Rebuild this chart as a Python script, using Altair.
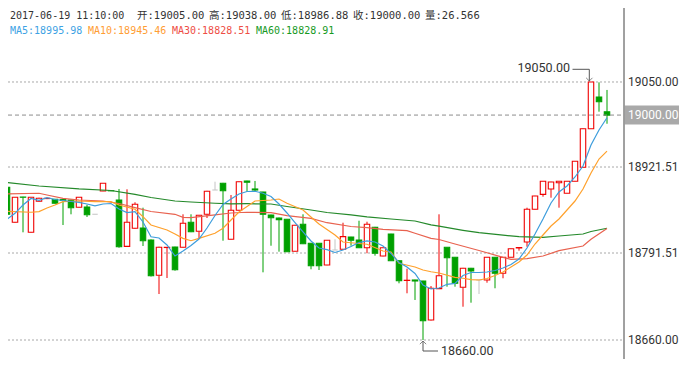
import altair as alt
import pandas as pd

# ---------------- data ----------------
candle_idx = list(range(77))
opens = [18832.3, 18890.8, 18837.9, 18876.2, 18822.8, 18869.7, 18873.8, 18872.7, 18872.4, 18871.6,
         18860.6, 18861.1, 18850.0, 18885.2, 18885.7, 18871.6, 18801.6, 18828.9, 18829.3, 18811.2,
         18757.8, 18799.8, 18800.6, 18800.1, 18837.9, 18824.3, 18850.0, 18886.7, 18896.9, 18812.2,
         18856.1, 18900.4, 18888.3, 18883.7, 18849.0, 18844.4, 18842.5, 18794.1, 18834.9, 18806.2,
         18806.2, 18773.4, 18796.0, 18797.1, 18815.7, 18811.2, 18799.5, 18830.4, 18787.0, 18820.2,
         18779.9, 18750.0, 18750.7, 18749.2, 18690.2, 18737.6, 18800.1, 18785.0, 18739.7, 18768.4,
         18750.7, 18750.7, 18785.0, 18760.8, 18785.0, 18799.1, 18808.1, 18857.6, 18880.2, 18888.3,
         18897.8, 18881.8, 18899.9, 18921.1, 18979.4, 19027.3, 19005.0]
closes = [18890.8, 18850.0, 18875.7, 18875.7, 18875.7, 18874.2, 18874.2, 18866.7, 18870.9, 18860.0,
          18875.7, 18849.4, 18850.0, 18896.9, 18885.5, 18801.0, 18837.9, 18865.1, 18810.1, 18757.2,
          18800.1, 18800.1, 18766.3, 18836.4, 18823.7, 18848.5, 18884.8, 18886.7, 18885.7, 18856.1,
          18899.3, 18898.4, 18886.7, 18850.0, 18844.9, 18841.9, 18793.5, 18833.4, 18805.6, 18772.3,
          18772.3, 18810.7, 18796.0, 18816.2, 18810.7, 18799.5, 18834.9, 18791.1, 18799.5, 18779.9,
          18749.6, 18750.3, 18749.2, 18689.2, 18738.2, 18757.2, 18784.4, 18745.7, 18768.4, 18764.3,
          18750.7, 18785.0, 18760.8, 18785.0, 18798.0, 18799.8, 18857.6, 18877.7, 18899.9, 18898.8,
          18899.9, 18899.9, 18930.1, 18979.4, 19050.0, 19020.2, 19000.0]
highs = [18892.0, 18892.0, 18876.0, 18876.5, 18876.0, 18875.0, 18875.0, 18873.0, 18873.0, 18872.0,
         18876.0, 18864.5, 18850.0, 18897.0, 18886.0, 18888.3, 18887.8, 18868.2, 18860.0, 18812.0,
         18801.0, 18800.5, 18801.0, 18850.0, 18850.0, 18849.0, 18885.5, 18899.3, 18897.5, 18879.2,
         18900.0, 18900.8, 18900.4, 18884.0, 18849.5, 18845.0, 18843.0, 18834.0, 18850.0, 18806.5,
         18806.5, 18811.0, 18812.2, 18837.3, 18816.0, 18840.3, 18838.8, 18831.0, 18800.0, 18820.5,
         18780.5, 18767.8, 18751.0, 18749.5, 18741.6, 18850.0, 18800.5, 18785.5, 18769.0, 18769.0,
         18751.0, 18785.5, 18785.5, 18785.5, 18798.5, 18800.0, 18860.0, 18878.0, 18900.3, 18899.2,
         18900.2, 18900.2, 18930.5, 18980.0, 19050.0, 19049.5, 19038.0]
lows = [18830.0, 18849.0, 18837.0, 18822.8, 18822.0, 18869.0, 18873.0, 18866.0, 18833.8, 18850.0,
        18860.0, 18846.0, 18850.0, 18885.0, 18885.0, 18799.5, 18801.0, 18828.0, 18802.1, 18756.0,
        18729.5, 18753.7, 18764.8, 18799.5, 18823.0, 18813.1, 18844.4, 18886.7, 18810.1, 18811.5,
        18855.5, 18884.2, 18883.7, 18762.3, 18802.5, 18793.5, 18793.0, 18793.5, 18805.0, 18766.9,
        18765.8, 18773.0, 18796.0, 18797.0, 18802.5, 18799.0, 18791.1, 18787.5, 18786.5, 18779.5,
        18745.7, 18730.6, 18720.5, 18660.0, 18689.5, 18737.0, 18740.6, 18740.6, 18710.3, 18716.4,
        18729.5, 18746.6, 18738.2, 18753.3, 18784.5, 18795.0, 18801.0, 18857.0, 18876.6, 18875.1,
        18860.0, 18881.5, 18899.5, 18920.5, 18979.0, 19005.1, 18986.88]

ma5_vals = [18842.5, 18842.5, 18851.5, 18864.1, 18873.9, 18871.2, 18875.1, 18872.4, 18870.9, 18869.4,
            18867.9, 18865.6, 18862.9, 18865.6, 18866.3, 18858.0, 18852.7, 18853.9, 18838.4, 18816.0,
            18814.2, 18803.6, 18787.0, 18794.5, 18802.9, 18812.7, 18829.3, 18848.2, 18864.8, 18873.1,
            18880.7, 18884.5, 18884.8, 18881.8, 18876.9, 18865.6, 18852.0, 18837.6, 18823.6, 18809.7,
            18799.1, 18796.5, 18792.3, 18796.1, 18801.3, 18807.4, 18809.7, 18808.1, 18802.1, 18790.8,
            18777.2, 18770.4, 18760.5, 18743.1, 18737.1, 18738.6, 18744.2, 18745.7, 18757.5, 18762.0,
            18762.0, 18762.8, 18765.1, 18768.8, 18774.1, 18782.4, 18799.1, 18820.2, 18842.9, 18867.1,
            18883.7, 18892.8, 18906.4, 18923.0, 18954.8, 18977.4, 18995.98]

ma10_idx = [0, 4, 5, 6, 7, 8, 10, 12, 14, 15, 17, 18, 19, 21, 22, 23, 24, 25, 27, 28, 29, 30, 32, 34, 35,
            36, 38, 40, 42, 43, 46, 48, 49, 50, 52, 53, 54, 55, 57, 58, 59, 60, 61, 62, 63, 64, 65, 66,
            67, 68, 69, 70, 71, 72, 73, 74, 75, 76]
ma10_vals = [18855.0, 18853.1, 18854.0, 18859.5, 18864.1, 18869.1, 18870.1, 18869.1, 18869.1, 18864.1,
             18857.6, 18846.4, 18833.8, 18826.3, 18820.2, 18813.7, 18810.1, 18813.7, 18821.3, 18828.9,
             18841.4, 18853.5, 18870.1, 18871.6, 18873.1, 18866.7, 18856.5, 18835.3, 18818.7, 18808.1,
             18804.7, 18794.5, 18793.0, 18775.9, 18770.4, 18765.8, 18763.2, 18761.3, 18754.8, 18753.3,
             18751.2, 18750.7, 18753.0, 18757.5, 18762.8, 18770.4, 18777.9, 18788.5, 18805.1, 18818.7,
             18832.3, 18842.9, 18856.5, 18870.1, 18888.3, 18912.4, 18933.6, 18945.46]

ma30_idx = [0, 5, 6, 8, 10, 13, 15, 17, 19, 22, 23, 24, 27, 29, 31, 34, 36, 39, 41, 44, 46, 48, 51, 52,
            54, 55, 57, 60, 63, 64, 66, 68, 70, 73, 74, 76]
ma30_vals = [18880.7, 18881.8, 18879.2, 18874.2, 18871.6, 18870.1, 18866.3, 18860.0, 18854.2, 18850.0,
             18845.5, 18844.9, 18849.0, 18852.0, 18853.1, 18852.4, 18847.9, 18843.9, 18837.3, 18831.6,
             18829.8, 18827.3, 18825.2, 18821.3, 18813.7, 18811.9, 18805.1, 18795.3, 18785.0, 18782.0,
             18782.9, 18787.0, 18795.0, 18802.1, 18812.2, 18828.51]

ma60_idx = [0, 5, 10, 14, 17, 19, 22, 24, 27, 29, 31, 34, 36, 39, 41, 44, 46, 49, 52, 54, 55, 58, 60,
            63, 65, 68, 70, 73, 74, 76]
ma60_vals = [18899.3, 18892.8, 18888.3, 18886.0, 18880.2, 18875.4, 18870.1, 18868.6, 18866.7, 18865.9,
             18866.0, 18865.6, 18861.8, 18856.5, 18852.7, 18849.0, 18846.0, 18842.9, 18839.9, 18834.0,
             18832.0, 18825.8, 18822.2, 18818.4, 18816.2, 18815.2, 18817.2, 18820.2, 18824.0, 18828.91]

axis_ticks = [18660.00, 18791.51, 18921.51, 19050.00]
header_time = "2017-06-19 11:10:00"
last_volume = "26.566"

# ---------------- layout / style ----------------
W, H = 616, 351
RIGHT = 55
X_DOMAIN = [1.125, 78.125]
Y_DOMAIN = [18631.28, 19161.86]
LABEL_FONT = "Roboto"
LABEL_SIZE = 12
MONO = "DejaVu Sans Mono, Noto Sans CJK SC"
UP, DOWN, FLAT = "#f00000", "#00a000", "#c4c4c4"
MA_COLORS = {"MA5": "#3d9ddc", "MA10": "#ffa12c", "MA30": "#e8624f", "MA60": "#24892a"}
HDR_COLORS = {"MA5": "#3ea2e4", "MA10": "#ff9d33", "MA30": "#ee4d45", "MA60": "#179a1f"}

xs = alt.Scale(domain=X_DOMAIN, zero=False, nice=False)
ys = alt.Scale(domain=Y_DOMAIN, zero=False, nice=False)


def X(f):
    return alt.X(f, scale=xs, axis=None)


def Y(f):
    return alt.Y(f, scale=ys, axis=None)


df = pd.DataFrame({"i": candle_idx, "open": opens, "high": highs, "low": lows, "close": closes})
df["top"] = df[["open", "close"]].max(axis=1)
df["bot"] = df[["open", "close"]].min(axis=1)
df["stroke"] = [UP if c > o else (DOWN if c < o else FLAT) for o, c in zip(opens, closes)]
df["fill"] = ["#ffffff" if c > o else (DOWN if c < o else FLAT) for o, c in zip(opens, closes)]
df["x0"] = df["i"] - 0.34
df["x1"] = df["i"] + 0.34

layers = []

# grid lines (through the y scale)
df_ticks = pd.DataFrame({"p": axis_ticks, "label": [f"{t:.2f}" for t in axis_ticks]})
layers.append(alt.Chart(df_ticks).mark_rule(color="#a8a8a8", strokeDash=[2, 2], strokeWidth=1).encode(
    y=Y("p:Q"), x=alt.value(0), x2=alt.value(W)))

# candles
base = alt.Chart(df)
layers.append(base.mark_rule(strokeWidth=1, clip=True).encode(
    x=X("i:Q"), y=Y("high:Q"), y2="top:Q", color=alt.Color("stroke:N", scale=None)))
layers.append(base.mark_rule(strokeWidth=1, clip=True).encode(
    x=X("i:Q"), y=Y("bot:Q"), y2="low:Q", color=alt.Color("stroke:N", scale=None)))
layers.append(base.mark_rect(strokeWidth=1.1, clip=True).encode(
    x=X("x0:Q"), x2="x1:Q", y=Y("open:Q"), y2="close:Q",
    fill=alt.Fill("fill:N", scale=None), stroke=alt.Stroke("stroke:N", scale=None)))

# moving averages
ma_series = [("MA60", ma60_idx, ma60_vals), ("MA30", ma30_idx, ma30_vals),
             ("MA10", ma10_idx, ma10_vals), ("MA5", candle_idx, ma5_vals)]
for name, ii, vv in ma_series:
    d = pd.DataFrame({"i": ii, "v": vv})
    layers.append(alt.Chart(d).mark_line(strokeWidth=1.2, color=MA_COLORS[name], clip=True).encode(
        x=X("i:Q"), y=Y("v:Q"), order="i:Q"))

# last price line and box
df_last = pd.DataFrame({"p": [closes[-1]], "label": [f"{closes[-1]:.2f}"]})
layers.append(alt.Chart(df_last).mark_rule(color="#8c8c8c", strokeDash=[4, 3]).encode(
    y=Y("p:Q"), x=alt.value(0), x2=alt.value(W)))
layers.append(alt.Chart(df_last).mark_rule(color="#a9a9a9", strokeWidth=19, strokeCap="butt").encode(
    y=Y("p:Q"), x=alt.value(W), x2=alt.value(W + RIGHT)))

# axis line and labels
layers.append(alt.Chart(df_ticks).mark_rule(color="#9a9a9a").encode(
    x=alt.value(W), y=alt.value(0), y2=alt.value(H)))
layers.append(alt.Chart(df_ticks).mark_text(align="left", baseline="middle", font=LABEL_FONT,
                                            fontSize=LABEL_SIZE, color="#333333").encode(
    y=Y("p:Q"), x=alt.value(W + 4), text="label:N"))
layers.append(alt.Chart(df_last).mark_text(align="left", baseline="middle", font=LABEL_FONT,
                                           fontSize=LABEL_SIZE, color="#ffffff").encode(
    y=Y("p:Q"), x=alt.value(W + 4), text="label:N"))

# high / low annotations
hi_row = df.loc[df["high"].idxmax()]
lo_row = df.loc[df["low"].idxmin()]
df_hi = pd.DataFrame({"i": [hi_row["i"]], "p": [hi_row["high"]], "label": [f"{hi_row['high']:.2f}"]})
df_lo = pd.DataFrame({"i": [lo_row["i"]], "p": [lo_row["low"]], "label": [f"{lo_row['low']:.2f}"]})
ANN = "#555555"
layers.append(alt.Chart(df_hi).mark_text(align="right", baseline="middle", dx=-21, dy=-13.5,
                                         font=LABEL_FONT, fontSize=12.5, color="#333333").encode(
    x=X("i:Q"), y=Y("p:Q"), text="label:N"))
layers.append(alt.Chart(df_hi).mark_rule(color=ANN, xOffset=-18.5, x2Offset=-1.7,
                                         yOffset=-12.7, y2Offset=-12.7).encode(
    x=X("i:Q"), x2="i:Q", y=Y("p:Q"), y2="p:Q"))
layers.append(alt.Chart(df_hi).mark_rule(color=ANN, xOffset=-1.7, x2Offset=-1.7,
                                         yOffset=-12.7, y2Offset=-1).encode(
    x=X("i:Q"), x2="i:Q", y=Y("p:Q"), y2="p:Q"))
layers.append(alt.Chart(df_hi).mark_point(shape="M-1,-0.5L0,0.5L1,-0.5", filled=False, size=40,
                                          strokeWidth=1, color=ANN, xOffset=-1.7, yOffset=-2.6).encode(
    x=X("i:Q"), y=Y("p:Q")))
layers.append(alt.Chart(df_lo).mark_text(align="left", baseline="middle", dx=18, dy=11,
                                         font=LABEL_FONT, fontSize=12.5, color="#333333").encode(
    x=X("i:Q"), y=Y("p:Q"), text="label:N"))
layers.append(alt.Chart(df_lo).mark_rule(color=ANN, xOffset=0, x2Offset=15,
                                         yOffset=11, y2Offset=11).encode(
    x=X("i:Q"), x2="i:Q", y=Y("p:Q"), y2="p:Q"))
layers.append(alt.Chart(df_lo).mark_rule(color=ANN, yOffset=1, y2Offset=11).encode(
    x=X("i:Q"), x2="i:Q", y=Y("p:Q"), y2="p:Q"))
layers.append(alt.Chart(df_lo).mark_point(shape="M-1,0.5L0,-0.5L1,0.5", filled=False, size=40,
                                          strokeWidth=1, color=ANN, yOffset=2.6).encode(
    x=X("i:Q"), y=Y("p:Q")))


# header text
def txt(x, y, s, color, font, size):
    return alt.Chart(pd.DataFrame({"t": [s]})).mark_text(
        align="left", baseline="middle", font=font, fontSize=size, color=color).encode(
        x=alt.value(x), y=alt.value(y), text="t:N")


layers.append(txt(2, 8, header_time, "#333333", MONO, 10))
hdr_items = [("开", f"{opens[-1]:.2f}"), ("高", f"{highs[-1]:.2f}"), ("低", f"{lows[-1]:.2f}"),
             ("收", f"{closes[-1]:.2f}"), ("量", last_volume)]
for k, (ch, val) in enumerate(hdr_items):
    layers.append(txt(129 + 72 * k, 8, f"{ch}:{val}", "#333333", MONO, 10.5))

ma_last = [("MA5", ma5_vals[-1]), ("MA10", ma10_vals[-1]), ("MA30", ma30_vals[-1]), ("MA60", ma60_vals[-1])]
xpos = 2
for name, v in ma_last:
    s = f"{name}:{v:.2f}"
    layers.append(txt(xpos, 23, s, HDR_COLORS[name], MONO, 10))
    xpos += 6 * (len(s) + 1)

chart = alt.layer(*layers).properties(
    width=W, height=H,
    autosize=alt.AutoSizeParams(type="none"),
    padding={"left": 0, "top": 0, "right": RIGHT, "bottom": 0},
    background="white",
).configure_view(strokeWidth=0)

chart.save("out.html", embed_options={"renderer": "svg", "actions": False})
